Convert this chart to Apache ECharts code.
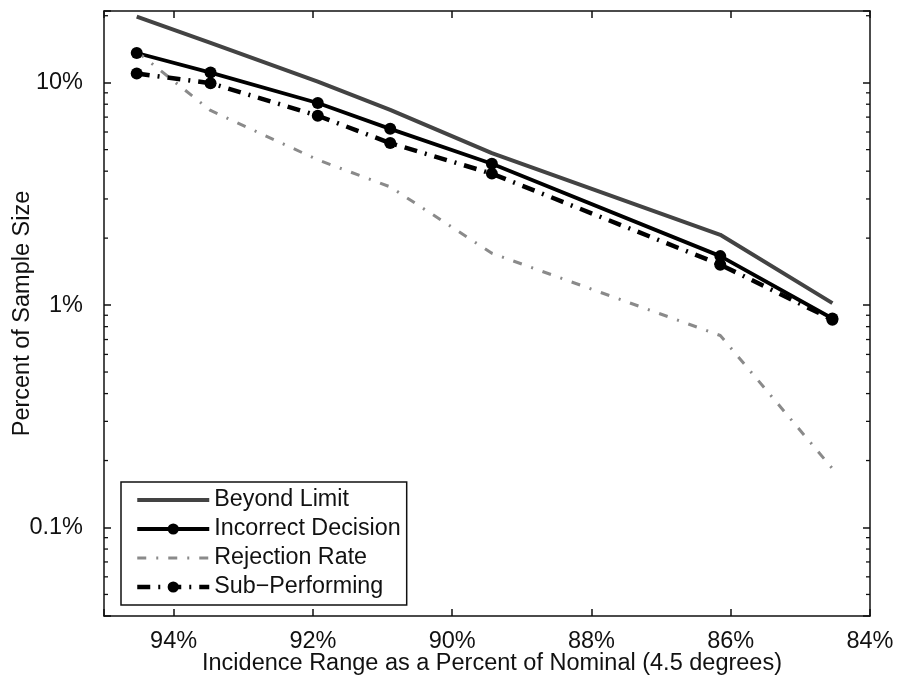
<!DOCTYPE html>
<html>
<head>
<meta charset="utf-8">
<title>Percent of Sample Size vs Incidence Range</title>
<script src="https://cdn.jsdelivr.net/npm/echarts@6/dist/echarts.min.js"></script>
<style>
  html, body { margin: 0; padding: 0; background: #ffffff; }
  #chart { width: 900px; height: 681px; }
</style>
</head>
<body>
<div id="chart"></div>
<script>
// Incidence range (% of 4.5 degree nominal) at which each rate was evaluated
const incidence = [94.53, 93.47, 91.93, 90.89, 89.43, 86.15, 84.54];

// Rates, in percent of the sample size
const beyondLimit       = [19.8, 15.1, 10.1, 7.55, 4.82, 2.07, 1.02];
const incorrectDecision = [13.6, 11.1, 8.1, 6.2, 4.32, 1.66, 0.87];
const rejectionRate     = [13.8, 7.5, 4.5, 3.4, 1.71, 0.73, 0.184];
const subPerforming     = [11.0, 9.95, 7.1, 5.35, 3.9, 1.52, 0.86];

// Axis ticks
const xTicks = [94, 92, 90, 88, 86, 84];
const yDecades = [0.1, 1, 10];
const yDecadeLabels = ['0.1%', '1%', '10%'];

const FONT = '"Liberation Sans", Arial, Helvetica, sans-serif';
const INK = '#111111';

// Line styles shared by the series and their legend entries
const styles = {
  beyond:    { color: '#434343', width: 4,   type: 'solid' },
  incorrect: { color: '#000000', width: 3.8, type: 'solid' },
  rejection: { color: '#8a8a8a', width: 3,   type: [9, 10, 2, 10] },
  sub:       { color: '#000000', width: 4.5, type: [13, 8, 2, 8] }
};

// Minor (2..9 x decade) tick values of the log axis
const minorTicks = [];
[0.01, 0.1, 1, 10].forEach(function (d) {
  for (let k = 2; k <= 9; k++) {
    const v = +(d * k).toPrecision(3);
    if (v > 0.04 && v < 21) minorTicks.push(v);
  }
});

const pairs = function (ys) { return incidence.map(function (x, i) { return [x, ys[i]]; }); };

const chart = echarts.init(document.getElementById('chart'), null, { renderer: 'canvas' });

const axisLineStyle = { color: INK, width: 1.5 };

chart.setOption({
  animation: false,
  backgroundColor: '#ffffff',
  textStyle: { fontFamily: FONT, color: INK },
  grid: { left: 104, right: 30, top: 11, bottom: 65, containLabel: false, outerBoundsMode: 'none' },
  xAxis: [
    {
      type: 'value', min: 84, max: 95, interval: 2, inverse: true,
      position: 'bottom',
      name: 'Incidence Range as a Percent of Nominal (4.5 degrees)',
      nameLocation: 'middle', nameGap: 36, nameMoveOverlap: false,
      nameTextStyle: { fontFamily: FONT, fontSize: 23.5, color: INK, padding: [0, 0, 0, 10] },
      axisLine: { show: true, lineStyle: axisLineStyle },
      axisTick: { show: true, inside: true, length: 7, lineStyle: axisLineStyle },
      axisLabel: {
        fontFamily: FONT, fontSize: 23.5, color: INK, margin: 14,
        formatter: function (v) { return xTicks.indexOf(Math.round(v * 1000) / 1000) >= 0 ? v + '%' : ''; }
      },
      splitLine: { show: false }
    },
    {
      type: 'value', min: 84, max: 95, interval: 2, inverse: true,
      position: 'top',
      axisLine: { show: true, lineStyle: axisLineStyle },
      axisTick: { show: true, inside: true, length: 7, lineStyle: axisLineStyle },
      axisLabel: { show: false },
      splitLine: { show: false }
    }
  ],
  yAxis: [
    {
      type: 'log', logBase: 10, min: 0.04, max: 21,
      position: 'left',
      name: 'Percent of Sample Size',
      nameLocation: 'middle', nameGap: 69, nameMoveOverlap: false,
      nameTextStyle: { fontFamily: FONT, fontSize: 23.5, color: INK },
      axisLine: { show: true, lineStyle: axisLineStyle },
      axisTick: { show: true, inside: true, length: 7, lineStyle: axisLineStyle },
      axisLabel: {
        fontFamily: FONT, fontSize: 23.5, color: INK, margin: 21,
        formatter: function (v) {
          for (let i = 0; i < yDecades.length; i++) {
            if (Math.abs(Math.log10(v) - Math.log10(yDecades[i])) < 1e-6) return yDecadeLabels[i];
          }
          return '';
        }
      },
      splitLine: { show: false }
    },
    {
      type: 'log', logBase: 10, min: 0.04, max: 21,
      position: 'right',
      axisLine: { show: true, lineStyle: axisLineStyle },
      axisTick: { show: true, inside: true, length: 7, lineStyle: axisLineStyle },
      axisLabel: { show: false },
      splitLine: { show: false }
    }
  ],
  legend: {
    data: [
      { name: 'Beyond Limit', itemStyle: { opacity: 0 }, lineStyle: styles.beyond },
      { name: 'Incorrect Decision', lineStyle: styles.incorrect },
      { name: 'Rejection Rate', itemStyle: { opacity: 0 }, lineStyle: styles.rejection },
      { name: 'Sub\u2212Performing', lineStyle: styles.sub }
    ],
    orient: 'vertical',
    left: 121, top: 482,
    padding: [6, 6, 6, 14],
    itemWidth: 72, itemHeight: 14, itemGap: 5,
    backgroundColor: '#ffffff',
    borderColor: INK, borderWidth: 1.5, borderRadius: 0,
    selectedMode: false,
    textStyle: { fontFamily: FONT, fontSize: 23.3, color: INK, lineHeight: 24, padding: [0, 0, 0, 0] }
  },
  series: [
    {
      name: 'Beyond Limit', type: 'line', data: pairs(beyondLimit),
      xAxisIndex: 0, yAxisIndex: 0,
      symbol: 'none', showSymbol: false,
      lineStyle: styles.beyond,
      itemStyle: { color: styles.beyond.color }
    },
    {
      name: 'Incorrect Decision', type: 'line', data: pairs(incorrectDecision),
      xAxisIndex: 0, yAxisIndex: 0,
      symbol: 'circle', symbolSize: 12, showSymbol: true,
      lineStyle: styles.incorrect,
      itemStyle: { color: '#000000', borderWidth: 0 }
    },
    {
      name: 'Rejection Rate', type: 'line', data: pairs(rejectionRate),
      xAxisIndex: 0, yAxisIndex: 0,
      symbol: 'none', showSymbol: false,
      lineStyle: styles.rejection,
      itemStyle: { color: styles.rejection.color }
    },
    {
      name: 'Sub\u2212Performing', type: 'line', data: pairs(subPerforming),
      xAxisIndex: 0, yAxisIndex: 0,
      symbol: 'circle', symbolSize: 12, showSymbol: true,
      lineStyle: styles.sub,
      itemStyle: { color: '#000000', borderWidth: 0 }
    },
    {
      // minor ticks of the log axis, on both the left and right frame edges
      name: 'minorTicks', type: 'custom', silent: true,
      xAxisIndex: 0, yAxisIndex: 0,
      data: minorTicks.map(function (v) { return [90, v]; }),
      encode: { x: 0, y: 1 },
      renderItem: function (params, api) {
        const y = api.coord([90, api.value(1)])[1];
        const r = params.coordSys;
        const style = { stroke: INK, lineWidth: 1.3 };
        return {
          type: 'group',
          children: [
            { type: 'line', shape: { x1: r.x, y1: y, x2: r.x + 4, y2: y }, style: style },
            { type: 'line', shape: { x1: r.x + r.width - 4, y1: y, x2: r.x + r.width, y2: y }, style: style }
          ]
        };
      }
    }
  ]
});
</script>
</body>
</html>
